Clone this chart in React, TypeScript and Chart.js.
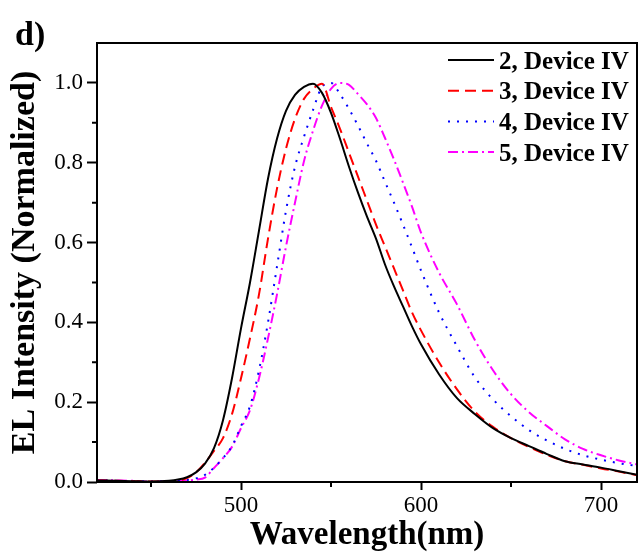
import React, { useEffect, useRef } from 'react';
import { Chart, registerables } from 'chart.js';

Chart.register(...registerables);

// ---- data ----
const wavelengths = [
  420, 430, 440, 450, 460,
  465, 470, 475, 480, 485, 490, 495, 500,
  505, 510, 515, 520, 525, 530, 535, 540,
  545, 550, 555, 560, 565, 570, 575, 580,
  585, 590, 595, 600,
  610, 620, 630, 640, 650, 660, 670, 680, 690, 700, 710, 720,
];

const device2 = [
  0.004, 0.003, 0.002, 0.001, 0.003,
  0.006, 0.012, 0.024, 0.046, 0.085, 0.155, 0.26, 0.385,
  0.50, 0.63, 0.76, 0.86, 0.93, 0.97, 0.99, 0.998,
  0.975, 0.925, 0.86, 0.79, 0.725, 0.665, 0.61, 0.545,
  0.49, 0.44, 0.39, 0.345,
  0.27, 0.21, 0.17, 0.135, 0.11, 0.09, 0.07, 0.052, 0.044, 0.036, 0.027, 0.018,
];

const device3 = [
  0.004, 0.003, 0.002, 0.001, 0.002,
  0.004, 0.010, 0.024, 0.048, 0.078, 0.11, 0.17, 0.26,
  0.36, 0.47, 0.61, 0.735, 0.835, 0.91, 0.96, 0.985,
  0.998, 0.94, 0.885, 0.825, 0.765, 0.705, 0.645, 0.59,
  0.535, 0.48, 0.425, 0.38,
  0.30, 0.232, 0.176, 0.138, 0.11, 0.088, 0.068, 0.052, 0.043, 0.034, 0.026, 0.017,
];

const device4 = [
  0.004, 0.003, 0.002, 0.001, 0.002,
  0.003, 0.005, 0.009, 0.018, 0.036, 0.06, 0.09, 0.14,
  0.19, 0.28, 0.40, 0.54, 0.68, 0.79, 0.865, 0.932,
  0.99, 1.0, 0.972, 0.935, 0.893, 0.848, 0.805, 0.752,
  0.70, 0.645, 0.588, 0.53,
  0.425, 0.34, 0.262, 0.207, 0.165, 0.13, 0.104, 0.083, 0.067, 0.056, 0.047, 0.04,
];

const device5 = [
  0.005, 0.004, 0.003, 0.001, 0.002,
  0.003, 0.004, 0.006, 0.011, 0.035, 0.06, 0.088, 0.135,
  0.18, 0.26, 0.36, 0.47, 0.59, 0.70, 0.804, 0.88,
  0.943, 0.985, 1.0, 0.995, 0.972, 0.946, 0.912, 0.862,
  0.808, 0.75, 0.69, 0.625,
  0.525, 0.445, 0.355, 0.28, 0.22, 0.175, 0.14, 0.107, 0.083, 0.067, 0.054, 0.044,
];

const seriesLabels = ['2, Device IV', '3, Device IV', '4, Device IV', '5, Device IV'];
const xTicks = [500, 600, 700];
const xMinorTicks = [450, 550, 650];
const yTicks = [0, 0.2, 0.4, 0.6, 0.8, 1.0];
const yMinorTicks = [0.1, 0.3, 0.5, 0.7, 0.9];

const SERIF = '"Liberation Serif", "Times New Roman", serif';

const toPoints = (vals: number[]) => wavelengths.map((w, i) => ({ x: w, y: vals[i] }));

const framePlugin = {
  id: 'frameAndExtras',
  afterDraw(chart: any) {
    const { ctx, chartArea } = chart;
    const { left, top, right, bottom } = chartArea;
    ctx.save();
    // frame
    ctx.strokeStyle = '#000';
    ctx.lineWidth = 2;
    ctx.setLineDash([]);
    ctx.strokeRect(left, top, right - left, bottom - top);
    // minor ticks
    const xs = chart.scales.x;
    const ys = chart.scales.y;
    ctx.beginPath();
    xMinorTicks.forEach((v) => {
      const px = xs.getPixelForValue(v);
      ctx.moveTo(px, bottom);
      ctx.lineTo(px, bottom + 5);
    });
    yMinorTicks.forEach((v) => {
      const py = ys.getPixelForValue(v);
      ctx.moveTo(left, py);
      ctx.lineTo(left - 5, py);
    });
    ctx.stroke();
    // panel label
    ctx.fillStyle = '#000';
    ctx.font = `bold 34px ${SERIF}`;
    ctx.textBaseline = 'alphabetic';
    ctx.textAlign = 'left';
    ctx.fillText('d)', 15, 45);
    // legend
    chart.data.datasets.forEach((ds: any, i: number) => {
      const y = 60 + i * 30.7;
      ctx.beginPath();
      ctx.setLineDash(ds.borderDash || []);
      ctx.strokeStyle = ds.borderColor;
      ctx.lineWidth = 2;
      ctx.moveTo(448, y);
      ctx.lineTo(494, y);
      ctx.stroke();
      ctx.setLineDash([]);
      ctx.font = `bold 25px ${SERIF}`;
      ctx.fillStyle = '#000';
      ctx.fillText(ds.label, 499, y + 8.5);
    });
    ctx.restore();
  },
};

export default function App() {
  const ref = useRef<HTMLCanvasElement>(null);

  useEffect(() => {
    if (!ref.current) return;
    const chart = new Chart(ref.current, {
      type: 'line',
      data: {
        datasets: [
          { label: seriesLabels[0], data: toPoints(device2), borderColor: '#000000', borderDash: [] },
          { label: seriesLabels[1], data: toPoints(device3), borderColor: '#ff0000', borderDash: [11, 6] },
          { label: seriesLabels[2], data: toPoints(device4), borderColor: '#0000ff', borderDash: [2, 7] },
          { label: seriesLabels[3], data: toPoints(device5), borderColor: '#ff00ff', borderDash: [10, 4, 2, 4] },
        ].map((d) => ({
          ...d,
          borderWidth: 2,
          pointRadius: 0,
          fill: false,
          cubicInterpolationMode: 'monotone' as const,
        })),
      },
      options: {
        responsive: false,
        animation: false,
        devicePixelRatio: 1,
        layout: { padding: { left: 0, right: 1, top: 43, bottom: 0 } },
        plugins: {
          legend: { display: false },
          tooltip: { enabled: false },
        },
        scales: {
          x: {
            type: 'linear',
            min: 420,
            max: 720,
            afterBuildTicks: (scale: any) => {
              scale.ticks = xTicks.map((v) => ({ value: v }));
            },
            afterFit: (scale: any) => {
              scale.height = 73;
            },
            grid: {
              display: true,
              drawOnChartArea: false,
              drawTicks: true,
              tickLength: 8,
              tickWidth: 2,
              tickColor: '#000',
            },
            border: { display: false },
            ticks: {
              color: '#000',
              padding: 2,
              autoSkip: false,
              maxRotation: 0,
              font: { family: SERIF, size: 23 },
              callback: (v: any) => String(v),
            },
            title: {
              display: true,
              text: 'Wavelength(nm)',
              color: '#000',
              padding: { top: 0, bottom: 0 },
              font: { family: SERIF, size: 33, weight: 'bold' },
            },
          },
          y: {
            type: 'linear',
            min: 0,
            max: 1.1,
            afterBuildTicks: (scale: any) => {
              scale.ticks = yTicks.map((v) => ({ value: v }));
            },
            afterFit: (scale: any) => {
              scale.width = 97;
            },
            grid: {
              display: true,
              drawOnChartArea: false,
              drawTicks: true,
              tickLength: 10,
              tickWidth: 2,
              tickColor: '#000',
            },
            border: { display: false },
            ticks: {
              color: '#000',
              padding: 4,
              autoSkip: false,
              font: { family: SERIF, size: 23 },
              callback: (v: any) => Number(v).toFixed(1),
            },
            title: {
              display: true,
              text: 'EL Intensity (Normalized)',
              color: '#000',
              padding: { top: 5, bottom: 0 },
              font: { family: SERIF, size: 34, weight: 'bold' },
            },
          },
        },
      },
      plugins: [framePlugin],
    });
    return () => chart.destroy();
  }, []);

  return (
    <div style={{ position: 'fixed', left: 0, top: 0, width: 638, height: 555, background: '#fff' }}>
      <canvas ref={ref} width={638} height={555} style={{ display: 'block' }} />
    </div>
  );
}
